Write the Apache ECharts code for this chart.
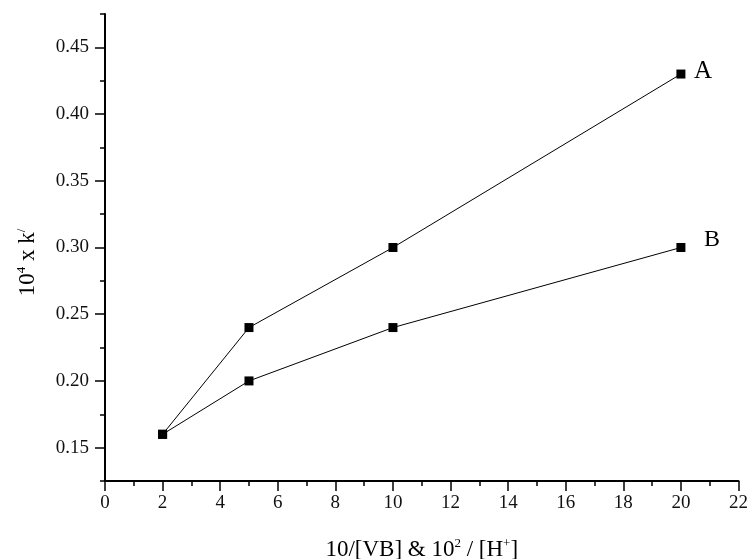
<!DOCTYPE html>
<html>
<head>
<meta charset="utf-8">
<script src="https://cdn.jsdelivr.net/npm/echarts@6/dist/echarts.min.js"></script>
<style>
html,body{margin:0;padding:0;background:#fff;}
#chart{width:748px;height:559px;}
</style>
</head>
<body>
<div id="chart"></div>
<script>
const xValues = [2, 5, 10, 20];
const seriesA = [0.16, 0.24, 0.30, 0.43];
const seriesB = [0.16, 0.20, 0.24, 0.30];
const seriesNames = ['A', 'B'];

const FONT = '"Liberation Serif", "Times New Roman", serif';
const chart = echarts.init(document.getElementById('chart'), null, {renderer: 'canvas'});

const toPoints = (ys) => xValues.map((x, i) => [x, ys[i]]);

function buildData(ys, name, fontSize, dist, dy) {
  const pts = toPoints(ys);
  return pts.map((p, i) => {
    if (i !== pts.length - 1) return p;
    return {
      value: p,
      label: {
        show: true, formatter: name, position: 'right', distance: 0,
        offset: [dist, dy], color: '#000', fontFamily: FONT, fontSize: fontSize
      }
    };
  });
}

const option = {
  animation: false,
  backgroundColor: '#fff',
  grid: [
    {left: 105, right: 9.5, top: 14, bottom: 78, outerBoundsMode: 'none'},
    {left: 105, right: 9.5, top: 47.36, bottom: 111.36, outerBoundsMode: 'none'}
  ],
  xAxis: [
    {
      type: 'value', gridIndex: 0, min: 0, max: 22, interval: 2,
      axisLine: {show: true, onZero: false, lineStyle: {color: '#000', width: 2}},
      axisTick: {show: true, length: 10, lineStyle: {color: '#000', width: 1.5}},
      minorTick: {show: true, splitNumber: 2, length: 5, lineStyle: {color: '#000', width: 1.5}},
      splitLine: {show: false},
      axisLabel: {color: '#111', fontFamily: FONT, fontSize: 19, margin: 13, showMinLabel: true, showMaxLabel: true},
      name: '{a|10/[VB] & 10}{s|2}{a| / [H}{s|+}{a|]}',
      nameLocation: 'middle', nameGap: 56,
      nameTextStyle: {
        rich: {
          a: {fontFamily: FONT, fontSize: 23, color: '#000', lineHeight: 26},
          s: {fontFamily: FONT, fontSize: 13, color: '#000', verticalAlign: 'top', lineHeight: 26, padding: [0, 0, 13, 0]}
        }
      }
    },
    {type: 'value', gridIndex: 1, min: 0, max: 22, show: false}
  ],
  yAxis: [
    {
      type: 'value', gridIndex: 0, min: 0.125, max: 0.475, interval: 0.025,
      axisLine: {show: true, onZero: false, lineStyle: {color: '#000', width: 2}},
      axisTick: {show: true, length: 5, lineStyle: {color: '#000', width: 1.5}},
      axisLabel: {show: false},
      splitLine: {show: false},
      name: '{a|10}{s|4}{a| x k}{s|/}',
      nameLocation: 'middle', nameRotate: 90, nameGap: 64,
      nameTextStyle: {
        padding: [0, 30, 0, 0],
        rich: {
          a: {fontFamily: FONT, fontSize: 23, color: '#000', lineHeight: 26},
          s: {fontFamily: FONT, fontSize: 13, color: '#000', lineHeight: 26, padding: [0, 0, 13, 0]}
        }
      }
    },
    {
      type: 'value', gridIndex: 1, min: 0.15, max: 0.45, interval: 0.05,
      axisLine: {show: false},
      axisTick: {show: true, length: 10, lineStyle: {color: '#000', width: 1.5}},
      axisLabel: {color: '#111', fontFamily: FONT, fontSize: 19, margin: 16,
        formatter: (v) => v.toFixed(2)},
      splitLine: {show: false}
    }
  ],
  series: [
    {
      name: seriesNames[0], type: 'line', xAxisIndex: 0, yAxisIndex: 0,
      data: buildData(seriesA, seriesNames[0], 25, 8.5, -3),
      symbol: 'rect', symbolSize: 9, showAllSymbol: true,
      itemStyle: {color: '#000'}, lineStyle: {color: '#000', width: 1}
    },
    {
      name: seriesNames[1], type: 'line', xAxisIndex: 0, yAxisIndex: 0,
      data: buildData(seriesB, seriesNames[1], 24, 18.5, -8),
      symbol: 'rect', symbolSize: 9, showAllSymbol: true,
      itemStyle: {color: '#000'}, lineStyle: {color: '#000', width: 1}
    }
  ]
};
chart.setOption(option);
</script>
</body>
</html>
